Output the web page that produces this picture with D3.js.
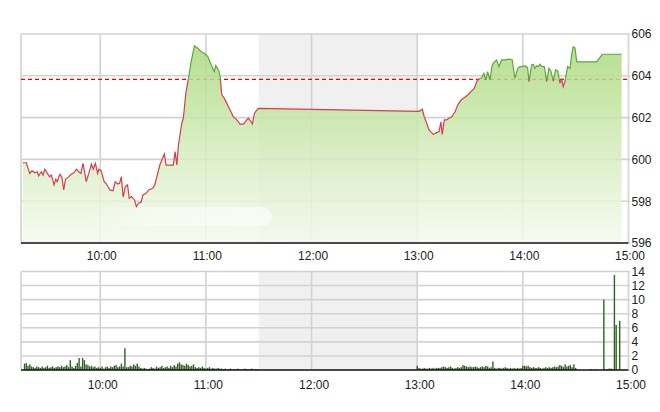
<!DOCTYPE html>
<html><head><meta charset="utf-8">
<script src="https://cdn.jsdelivr.net/npm/d3@7"></script>
<style>
body{margin:0;background:#fff}
svg text{font-family:"Liberation Sans",Arial,sans-serif;font-size:12px;fill:#222}
</style>
</head><body>
<svg id="c" width="660" height="412"></svg>
<script>
// ---------- data ----------
const priceTimes = [
"9:16:00","9:18:00","9:20:00","9:21:15","9:22:45","9:24:15","9:25:00","9:26:30","9:27:30","9:28:30",
"9:30:00","9:31:15","9:32:15","9:33:45","9:34:45","9:35:30","9:36:30","9:37:15","9:38:15","9:39:15",
"9:40:15","9:41:45","9:43:30","9:45:00","9:46:30","9:47:45","9:49:00","9:50:15","9:51:15","9:52:00",
"9:53:30","9:55:00","9:56:00","9:57:15","9:58:30","9:59:15","10:00:30","10:02:15","10:03:30","10:05:30",
"10:07:15","10:08:30","10:10:00","10:11:00","10:12:00","10:13:00","10:14:15","10:15:30","10:16:30","10:17:45",
"10:19:30","10:20:30","10:21:45","10:23:15","10:24:15","10:26:00","10:27:30","10:29:45","10:31:00","10:33:50",
"10:36:24","10:37:24","10:41:30","10:42:30","10:43:30","10:44:24","10:46:18","10:47:12","10:48:36","10:50:06",
"10:51:36","10:53:30","10:55:24","10:57:18","10:59:06","11:01:06","11:03:00","11:04:48","11:05:36","11:07:06",
"11:08:06","11:09:00","11:10:30","11:11:54","11:13:45","11:15:36","11:17:36","11:19:24","11:21:18","11:23:12",
"11:24:06","11:25:42","11:26:24","11:27:36","11:28:54","11:29:48",
"13:01:00","13:02:54","13:04:00","13:05:24","13:06:42","13:09:06","13:11:06","13:12:24","13:13:30","13:14:12",
"13:15:24","13:16:42","13:18:00","13:19:36","13:21:30","13:23:00","13:24:54","13:26:42","13:28:42","13:30:30",
"13:32:24","13:33:48","13:35:06","13:36:36","13:37:54","13:38:54","13:40:00","13:41:18","13:42:36","13:43:48",
"13:45:06","13:46:24","13:48:00","13:49:48","13:52:42","13:54:00","13:55:30","13:57:06","13:58:24","13:59:42",
"14:01:12","14:02:42","14:03:30","14:05:00","14:05:54","14:06:54","14:07:48","14:08:48","14:09:42","14:11:00",
"14:12:12","14:13:30","14:14:48","14:15:54","14:17:18","14:18:36","14:19:48","14:21:06","14:22:00","14:22:54",
"14:23:54","14:25:24","14:26:48","14:27:42","14:28:36","14:29:36","14:30:36","14:41:54","14:45:06","14:56:06"
];
const priceValues = [
599.84,599.84,599.33,599.46,599.36,599.41,599.21,599.41,599.25,599.53,
599.33,599.17,599.25,598.78,599.05,598.93,599.17,599.29,599.14,598.54,
599.05,599.14,599.29,599.36,599.53,599.41,599.33,599.81,599.33,598.93,
599.33,599.78,599.53,599.81,599.33,599.53,599.46,598.93,598.82,598.54,
598.50,598.93,598.82,598.86,599.17,598.20,598.70,598.78,598.14,598.22,
598.06,597.74,597.90,597.95,598.30,598.38,598.54,598.62,598.78,599.73,
600.26,599.73,599.73,600.37,599.73,600.69,601.73,601.97,603.16,603.88,
604.67,605.44,605.32,605.15,605.08,604.92,604.52,604.20,604.49,604.28,
603.96,603.10,602.92,602.68,602.36,602.04,601.89,601.69,601.69,601.89,
601.97,601.80,601.69,602.21,602.36,602.44,
602.30,602.40,602.04,601.73,601.41,601.20,601.28,601.33,601.80,601.20,
601.89,601.89,601.97,602.04,602.28,602.60,602.84,602.95,603.08,603.24,
603.40,603.72,603.85,603.91,604.12,603.80,604.20,603.80,604.52,604.67,
604.76,604.44,604.76,604.76,604.80,604.76,603.88,604.36,604.44,604.44,
604.48,604.39,603.72,604.52,604.55,604.36,604.48,604.44,604.55,604.44,
604.44,603.72,604.36,604.23,603.75,604.28,604.23,603.64,603.88,603.48,
603.72,604.44,604.36,605.00,605.39,605.34,604.67,604.67,605.03,605.03
];
const prevClose = 603.83;
const priceTicks = [596, 598, 600, 602, 604, 606];
const volumeTicks = [0, 2, 4, 6, 8, 10, 12, 14];
const timeTicks = ["10:00", "11:00", "12:00", "13:00", "14:00", "15:00"];
const sessionRange = ["9:15", "15:00"];
const lunchBreak = ["11:30", "13:00"];

const volMorningStart = "9:17";
const volMorning = [
0.9,1.0,0.6,0.8,0.5,0.4,0.3,0.5,0.4,
0.3,0.5,0.3,0.4,0.6,0.3,0.4,0.5,0.3,0.4,
0.5,0.4,0.6,0.4,0.5,0.7,0.4,1.4,0.5,0.3,
0.6,1.0,1.7,0.5,1.7,1.4,0.8,0.7,0.5,0.6,
0.4,0.5,0.3,0.4,0.3,0.5,0.2,0.4,0.5,0.3,
0.5,0.4,0.6,0.7,0.4,0.5,0.9,0.5,3.1,0.4,
0.4,0.6,0.5,0.8,0.6,0.9,0.5,0.3,0.2,0.3,
0.2,0.1,0.2,0.4,0.3,0.2,0.5,0.3,0.4,0.6,
0.3,0.4,0.5,0.3,0.6,0.4,0.7,0.5,0.9,1.1,
0.8,0.7,0.6,0.9,0.7,0.5,0.6,0.8,0.4,0.3,
0.4,0.3,0.5,0.3,0.2,0.3,0.4,0.2,0.3,0.2,
0.2,0.3,0.2,0.2,0.1,0.2,0.1,0.1,0.2,0.1,
0.1,0.1,0.2,0.1,0.1,0.1,0.2,0.1,0.1,0.1,0.2,0.1,0.1,0.1,0.1
];
const volAfternoonStart = "13:00";
const volAfternoon = [
0.6,0.3,0.2,0.2,0.3,0.2,0.2,0.3,0.2,0.3,
0.2,0.3,0.3,0.3,0.4,0.5,0.4,0.3,0.4,0.5,
0.3,0.2,0.3,0.4,0.3,0.4,0.7,0.6,0.5,0.4,
0.5,0.4,0.4,0.5,0.4,0.3,0.4,0.5,0.4,0.6,
0.5,0.3,0.4,1.2,0.3,0.2,0.3,0.3,0.2,0.3,
0.4,0.3,0.2,0.3,0.2,0.3,0.2,0.3,0.2,0.3,
0.6,0.6,0.5,0.6,0.4,0.3,0.4,0.3,0.3,0.4,
0.3,0.2,0.3,0.4,0.3,0.4,0.3,0.4,0.5,0.4,
0.5,0.7,0.6,0.4,0.8,0.5,0.6,0.7,0.4,0.8,
0.3,0,0,0,0,0,0,0,0.1,0.1,
0,0.1,0,0,0,0,10.0,0,0.1,0.2,
0.2,0.1,13.5,6.4,0,7.0,0,0,0,0
];

// ---------- helpers ----------
const parseT = s => { const p = s.split(":").map(Number); return new Date(2020, 0, 1, p[0], p[1], p[2] || 0); };
const prices = priceTimes.map((t, i) => ({ t: parseT(t), v: priceValues[i] }));
const volumes = [
  ...volMorning.map((v, i) => ({ t: d3.timeMinute.offset(parseT(volMorningStart), i), v })),
  ...volAfternoon.map((v, i) => ({ t: d3.timeMinute.offset(parseT(volAfternoonStart), i), v }))
].filter(d => d.v > 0);

const L = 21, R = 628.5;
const top1 = 34, bot1 = 243, top2 = 271.5, bot2 = 370;

const x = d3.scaleTime().domain(sessionRange.map(parseT)).range([L, R]);
const y = d3.scaleLinear().domain([596, 606]).range([bot1, top1]);
const yv = d3.scaleLinear().domain([0, 14]).range([bot2, top2]);

const svg = d3.select("#c");
const defs = svg.append("defs");

const grad = defs.append("linearGradient").attr("id", "fillG")
  .attr("gradientUnits", "userSpaceOnUse").attr("x1", 0).attr("x2", 0).attr("y1", top1).attr("y2", bot1);
[[0, "#a6d678"], [0.3, "#bfe39c"], [0.65, "#dcefc8"], [1, "#f5faef"]].forEach(([o, c]) =>
  grad.append("stop").attr("offset", o).attr("stop-color", c));

const blobG = defs.append("linearGradient").attr("id", "blobG")
  .attr("x1", 0).attr("x2", 1).attr("y1", 0).attr("y2", 0);
[[0, 0], [0.35, 0.45], [1, 0.6]].forEach(([o, a]) =>
  blobG.append("stop").attr("offset", o).attr("stop-color", "#fff").attr("stop-opacity", a));

defs.append("clipPath").attr("id", "above").append("rect")
  .attr("x", 0).attr("y", 0).attr("width", 660).attr("height", y(prevClose));
defs.append("clipPath").attr("id", "below").append("rect")
  .attr("x", 0).attr("y", y(prevClose)).attr("width", 660).attr("height", bot1 - y(prevClose) + 5);

// ---------- panels ----------
function panel(top, bot, yScale, ticks) {
  const g = svg.append("g");
  g.append("rect").attr("x", x(parseT(lunchBreak[0]))).attr("y", top)
    .attr("width", x(parseT(lunchBreak[1])) - x(parseT(lunchBreak[0]))).attr("height", bot - top)
    .attr("fill", "#f0f0f0");
  g.selectAll(".hg").data(ticks.slice(1)).join("line")
    .attr("x1", L).attr("x2", R + 1).attr("y1", d => yScale(d)).attr("y2", d => yScale(d))
    .attr("stroke", "#d2d2d2").attr("stroke-width", 1.6);
  const vt = [sessionRange[0], ...timeTicks];
  g.selectAll(".vg").data(vt).join("line")
    .attr("x1", d => x(parseT(d))).attr("x2", d => x(parseT(d)))
    .attr("y1", top).attr("y2", bot)
    .attr("stroke", "#d2d2d2").attr("stroke-width", 1.6);
  return g;
}
panel(top1, bot1, y, priceTicks);
panel(top2, bot2, yv, volumeTicks);

// prev close dashed line
svg.append("line").attr("x1", L).attr("x2", R + 1).attr("y1", y(prevClose)).attr("y2", y(prevClose))
  .attr("stroke", "#f00000").attr("stroke-width", 1.4).attr("stroke-dasharray", "4,3");

// area
const area = d3.area().x(d => x(d.t)).y0(bot1).y1(d => y(d.v));
svg.append("path").datum(prices).attr("d", area).attr("fill", "url(#fillG)").attr("fill-opacity", 0.85);

// white smear
svg.append("rect").attr("x", 90).attr("y", 207).attr("width", 182).attr("height", 19).attr("rx", 9)
  .attr("fill", "url(#blobG)");

// price line
const line = d3.line().x(d => x(d.t)).y(d => y(d.v));
svg.append("path").datum(prices).attr("d", line).attr("fill", "none")
  .attr("stroke", "#5aa83c").attr("stroke-width", 1.2).attr("clip-path", "url(#above)");
svg.append("path").datum(prices).attr("d", line).attr("fill", "none")
  .attr("stroke", "#d2404c").attr("stroke-width", 1.2).attr("clip-path", "url(#below)");

// volume bars
svg.append("g").selectAll("rect").data(volumes).join("rect")
  .attr("x", d => x(d.t) - 0.7).attr("width", 1.4)
  .attr("y", d => yv(d.v)).attr("height", d => bot2 - yv(d.v))
  .attr("fill", "#2c6520");

// baselines
svg.append("line").attr("x1", L).attr("x2", R).attr("y1", bot1).attr("y2", bot1)
  .attr("stroke", "#111").attr("stroke-width", 1.5);
svg.append("line").attr("x1", L).attr("x2", R).attr("y1", bot2).attr("y2", bot2)
  .attr("stroke", "#111").attr("stroke-width", 1.5);

// axes
function styleAxis(g) { g.select(".domain").remove(); g.selectAll("text").attr("fill", "#222").style("font-size", "12px"); }
svg.append("g").attr("transform", `translate(${R},0)`)
  .call(d3.axisRight(y).tickValues(priceTicks).tickFormat(d3.format("d")).tickSize(2).tickPadding(1))
  .call(styleAxis).call(g => g.selectAll("line").attr("stroke", "#d2d2d2"));
svg.append("g").attr("transform", `translate(${R},0)`)
  .call(d3.axisRight(yv).tickValues(volumeTicks).tickFormat(d3.format("d")).tickSize(2).tickPadding(1))
  .call(styleAxis).call(g => g.selectAll("line").attr("stroke", "#d2d2d2"));
const tf = d3.timeFormat("%H:%M");
svg.append("g").attr("transform", `translate(1,${bot1})`)
  .call(d3.axisBottom(x).tickValues(timeTicks.map(parseT)).tickFormat(tf).tickSize(0).tickPadding(8))
  .call(styleAxis);
svg.append("g").attr("transform", `translate(2,${bot2})`)
  .call(d3.axisBottom(x).tickValues(timeTicks.map(parseT)).tickFormat(tf).tickSize(0).tickPadding(10))
  .call(styleAxis);
</script>
</body></html>
